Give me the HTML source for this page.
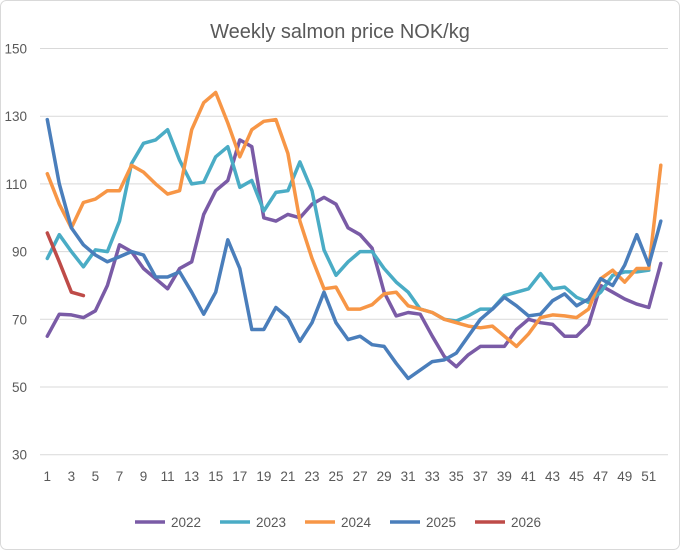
<!DOCTYPE html>
<html><head><meta charset="utf-8"><style>
body{margin:0;background:#fff}
svg{display:block;font-family:"Liberation Sans",sans-serif}
</style></head><body>
<svg id="s" width="680" height="550" viewBox="0 0 680 550">
<rect x="0.5" y="0.5" width="679" height="549" rx="6" fill="#fff" stroke="#d9d9d9"/>
<text x="340" y="38" text-anchor="middle" font-size="20" fill="#595959">Weekly salmon price NOK/kg</text>
<g id="g"></g>
</svg>
<script>
var g=document.getElementById('g'),h='';
function Y(v){return 319.3-(v-70)*3.385;}
function X(w){return 47.3+(w-1)*12.03;}
for(var v=30;v<=150;v+=20){var y=Y(v);
h+='<line x1="40" x2="668" y1="'+y+'" y2="'+y+'" stroke="#d9d9d9" stroke-width="1"/>';
h+='<text x="27" y="'+(y+5)+'" text-anchor="end" font-size="13.5" fill="#595959">'+v+'</text>';}
for(var w=1;w<=51;w+=2){h+='<text x="'+X(w)+'" y="481" text-anchor="middle" font-size="13.5" fill="#595959">'+w+'</text>';}
var S=[
['#7a5ba6',[65,71.5,71.3,70.5,72.5,80,92,90,85,82,79,85,87,101,108,111,123,121,100,99,101,100,104,106,104,97,95,91,78,71,72,71.5,65,59,56,59.5,62,62,62,67,70,69,68.5,65,65,68.5,80,78,76,74.5,73.5,86.5]],
['#4aacc5',[88,95,90,85.5,90.5,90,99,116,122,123,126,117,110,110.5,118,121,109,111,102,107.5,108,116.5,108,90.5,83,87,90,90,85,81,78,73,72,70,69.5,71,73,73,77,78,79,83.5,79,79.5,76.5,75,78,83,84,84,84.5]],
['#f79646',[113,104,97,104.5,105.5,108,108,115.5,113.5,110,107,108,126,134,137,128,118,126,128.5,129,119,99,88,79,79.5,73,73,74.3,77.5,78,74,73,72,70,69,68,67.5,68,65,62,65.7,70.5,71.3,71,70.5,73,82,84.5,81,85,85,115.5]],
['#4a7ebb',[129,110,97,92,89,87,88.5,90,89,82.5,82.5,84,78,71.5,78,93.5,85,67,67,73.5,70.5,63.5,69,78,69,64,65,62.5,62,57,52.5,55,57.5,58,60,65,70,73,76.5,74,71,71.5,75.5,77.5,74,76,82,80,86,95,86,99]],
['#be4b48',[95.5,87,78,77]]];
S.forEach(function(s){var p=s[1].map(function(v,i){return X(i+1).toFixed(1)+','+Y(v).toFixed(1)}).join(' ');
h+='<polyline points="'+p+'" fill="none" stroke="'+s[0]+'" stroke-width="3.5" stroke-linejoin="round" stroke-linecap="round"/>';});
var L=['2022','2023','2024','2025','2026'];
L.forEach(function(t,i){var x=135+i*85;
h+='<line x1="'+x+'" x2="'+(x+30)+'" y1="522" y2="522" stroke="'+S[i][0]+'" stroke-width="3.5"/>';
h+='<text x="'+(x+36)+'" y="527" font-size="13.5" fill="#595959">'+t+'</text>';});
g.innerHTML=h;
</script>
</body></html>
